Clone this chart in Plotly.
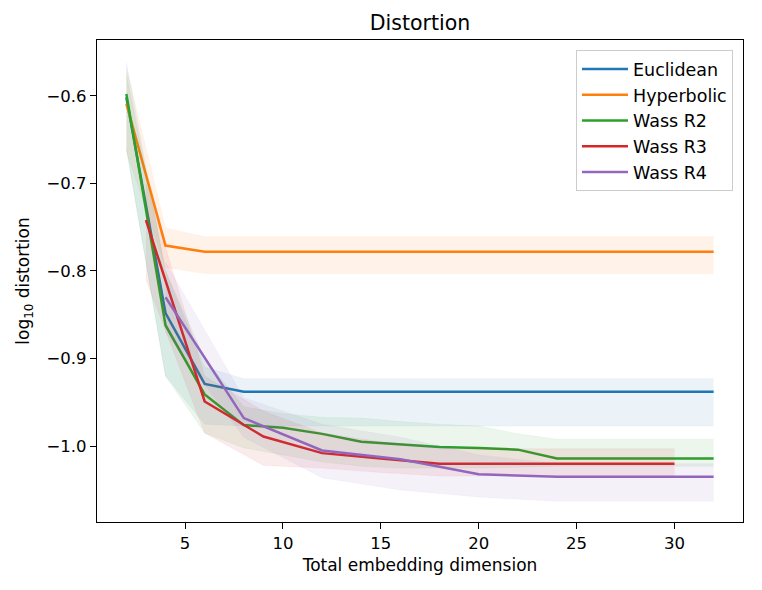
import plotly.graph_objects as go

# dimensions per method
x_even = [2, 4, 6, 8, 10, 12, 14, 16, 18, 20, 22, 24, 26, 28, 30, 32]
x_r3 = [3, 6, 9, 12, 15, 18, 21, 24, 27, 30]
x_r4 = [4, 8, 12, 16, 20, 24, 28, 32]

eucl = [-0.602, -0.848, -0.929, -0.938, -0.938, -0.938, -0.938, -0.938,
        -0.938, -0.938, -0.938, -0.938, -0.938, -0.938, -0.938, -0.938]
eucl_hi = [-0.562, -0.800, -0.910, -0.923, -0.923, -0.923, -0.923, -0.923,
           -0.923, -0.923, -0.923, -0.923, -0.923, -0.923, -0.923, -0.923]
eucl_lo = [-0.660, -0.920, -0.975, -0.977, -0.977, -0.977, -0.977, -0.977,
           -0.977, -0.977, -0.977, -0.977, -0.977, -0.977, -0.977, -0.977]

hyp = [-0.609, -0.771, -0.778, -0.778, -0.778, -0.778, -0.778, -0.778,
       -0.778, -0.778, -0.778, -0.778, -0.778, -0.778, -0.778, -0.778]
hyp_hi = [-0.568, -0.751, -0.761, -0.761, -0.761, -0.761, -0.761, -0.761,
          -0.761, -0.761, -0.761, -0.761, -0.761, -0.761, -0.761, -0.761]
hyp_lo = [-0.663, -0.796, -0.803, -0.803, -0.803, -0.803, -0.803, -0.803,
          -0.803, -0.803, -0.803, -0.803, -0.803, -0.803, -0.803, -0.803]

r2 = [-0.598, -0.862, -0.941, -0.976, -0.979, -0.986, -0.995, -0.998,
      -1.001, -1.002, -1.004, -1.014, -1.014, -1.014, -1.014, -1.014]
r2_hi = [-0.575, -0.800, -0.900, -0.955, -0.963, -0.967, -0.968, -0.972,
         -0.975, -0.977, -0.986, -0.992, -0.992, -0.992, -0.992, -0.992]
r2_lo = [-0.660, -0.920, -0.985, -1.002, -1.010, -1.018, -1.023, -1.025,
         -1.025, -1.025, -1.024, -1.023, -1.023, -1.023, -1.023, -1.023]

r3 = [-0.742, -0.949, -0.989, -1.008, -1.014, -1.020, -1.020, -1.020, -1.020, -1.020]
r3_hi = [-0.700, -0.920, -0.960, -0.985, -0.995, -1.003, -1.003, -1.003, -1.003, -1.003]
r3_lo = [-0.810, -0.985, -1.022, -1.025, -1.030, -1.034, -1.034, -1.034, -1.034, -1.034]

r4 = [-0.830, -0.968, -1.005, -1.015, -1.032, -1.035, -1.035, -1.035]
r4_hi = [-0.790, -0.945, -0.975, -0.990, -1.010, -1.020, -1.020, -1.020]
r4_lo = [-0.870, -0.990, -1.036, -1.050, -1.058, -1.063, -1.063, -1.063]

series = [
    ("Euclidean", x_even, eucl, eucl_lo, eucl_hi, "#1f77b4", "rgba(31,119,180,0.09)"),
    ("Hyperbolic", x_even, hyp, hyp_lo, hyp_hi, "#ff7f0e", "rgba(255,127,14,0.09)"),
    ("Wass R2", x_even, r2, r2_lo, r2_hi, "#2ca02c", "rgba(44,160,44,0.09)"),
    ("Wass R3", x_r3, r3, r3_lo, r3_hi, "#d62728", "rgba(214,39,40,0.09)"),
    ("Wass R4", x_r4, r4, r4_lo, r4_hi, "#9467bd", "rgba(148,103,189,0.09)"),
]

fig = go.Figure()

for name, xs, ys, lo, hi, col, fcol in series:
    fig.add_trace(go.Scatter(x=xs, y=ys, mode="lines", name=name,
                             line=dict(color=col, width=2.5)))
    fig.add_trace(go.Scatter(x=xs, y=lo, mode="lines", line=dict(width=0.6, color=fcol),
                             showlegend=False, hoverinfo="skip"))
    fig.add_trace(go.Scatter(x=xs, y=hi, mode="lines", line=dict(width=0.6, color=fcol),
                             fill="tonexty", fillcolor=fcol,
                             showlegend=False, hoverinfo="skip"))

axis_style = dict(showline=True, linecolor="black", linewidth=1.2, mirror=True,
                  ticks="outside", ticklen=6, tickwidth=1.2, tickcolor="black",
                  showgrid=False, zeroline=False,
                  tickfont=dict(size=16.5, color="black"))

# the page has an 8px body margin, so the figure is 16px smaller than the window
fig.update_layout(
    width=746, height=574,
    margin=dict(l=89, r=11, t=32, b=60),
    paper_bgcolor="white", plot_bgcolor="white",
    font=dict(family="DejaVu Sans", color="black", size=16.5),
    title=dict(text="Distortion", x=0.5523, xanchor="center", y=0.975,
               yref="container", yanchor="middle", font=dict(size=20.5)),
    legend=dict(x=0.9845, y=0.979, xanchor="right", yanchor="top",
                traceorder="normal", itemwidth=46,
                bgcolor="rgba(255,255,255,0.8)", bordercolor="#cccccc",
                borderwidth=1, font=dict(size=17.5), tracegroupgap=0),
    xaxis=dict(range=[0.5, 33.5], tickvals=[5, 10, 15, 20, 25, 30],
               title=dict(text="Total embedding dimension", standoff=7,
                          font=dict(size=17)), **axis_style),
    yaxis=dict(range=[-1.0866, -0.5364], tickvals=[-0.6, -0.7, -0.8, -0.9, -1.0],
               tickformat=".1f",
               title=dict(text="log<sub>10</sub> distortion", standoff=12,
                          font=dict(size=17)), **axis_style),
)

fig.write_html("out.html")
